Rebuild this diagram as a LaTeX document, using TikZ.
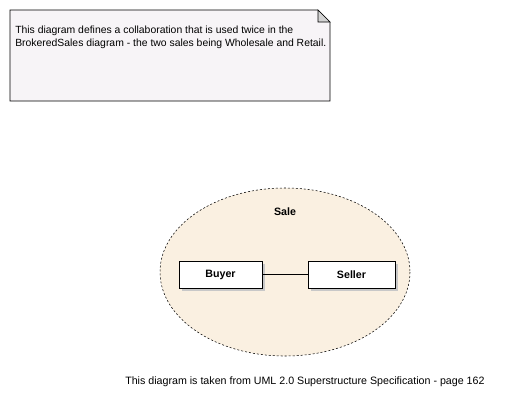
\documentclass[tikz,border=0pt]{standalone}
\usepackage{fontspec}
\setmainfont{Liberation Sans}
\definecolor{notefill}{RGB}{247,244,247}
\definecolor{collabfill}{RGB}{250,240,225}
\definecolor{shadowgray}{RGB}{200,200,200}
\tikzset{
  partbox/.style={draw=black, fill=white, minimum width=83*0.75pt, minimum height=27*0.75pt, inner sep=0pt, font=\fontsize{8}{9}\selectfont\bfseries},
  partshadow/.style={fill=shadowgray, draw=none}
}
\begin{document}
\begin{tikzpicture}[x=0.75pt,y=0.75pt,yscale=-1,xscale=1]
\useasboundingbox (0,0) rectangle (510,405);

%Shape: Note
\draw [fill=notefill] (10,10) -- (318,10) -- (330,22) -- (330,101) -- (10,101) -- cycle ;
\draw [fill=shadowgray!80] (318,10) -- (318,22) -- (330,22) -- cycle ;
% Text Node
\node (notetext) [anchor=north west, inner sep=0pt, align=left, font=\fontsize{7.8}{9.75}\selectfont] at (15,26) {This diagram defines a collaboration that is used twice in the\\BrokeredSales diagram - the two sales being Wholesale and Retail.};

%Shape: Collaboration
\draw [fill=collabfill, dash pattern=on 1.5pt off 1.5pt] (285,272) ellipse [x radius=125, y radius=84] ;
% Text Node
\node (sale) [font=\fontsize{8}{9}\selectfont\bfseries] at (285,212) {Sale};

%Shape: Parts
\fill [partshadow] (182,264) rectangle (265,291) ;
\fill [partshadow] (311,264) rectangle (398,291) ;
\node (buyer) [partbox] at (220.5,274.5) {Buyer};
\node (seller) [partbox, minimum width=87*0.75pt] at (351.5,274.5) {Seller};
%Straight Lines
\draw (buyer) -- (seller) ;

% Text Node
\node (source) [anchor=west, inner sep=0pt, font=\fontsize{8}{9}\selectfont] at (125,382) {This diagram is taken from UML 2.0 Superstructure Specification - page 162};

\end{tikzpicture}
\end{document}
